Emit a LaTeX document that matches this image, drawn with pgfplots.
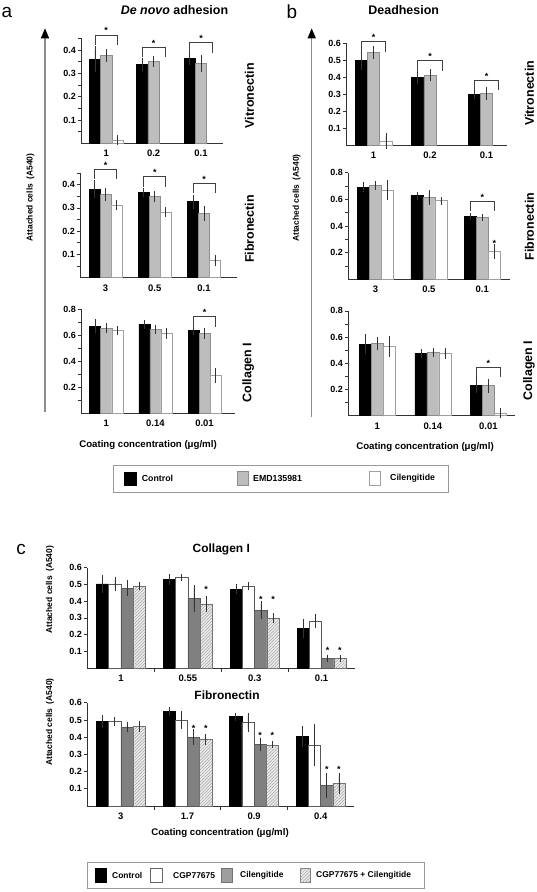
\documentclass[border=0pt]{standalone}
\usepackage{fontspec}
\setmainfont{Liberation Sans}
\usepackage{pgfplots}
\pgfplotsset{compat=1.18}
\usetikzlibrary{patterns.meta,arrows.meta}
\definecolor{emd}{HTML}{BDBDBD}
\definecolor{emdedge}{HTML}{8C8C8C}
\definecolor{ciledge}{HTML}{A0A0A0}
\definecolor{cilc}{HTML}{808080}
\definecolor{combfill}{HTML}{EDEDED}
\definecolor{combline}{HTML}{A0A0A0}
\newcommand\fs[1]{\fontsize{#1}{#1}\selectfont}
\pgfplotsset{
 panel/.style={scale only axis, clip=false, anchor=south west,
   axis x line=bottom, axis y line=left,
   axis line style={-, line width=0.8bp, black!80},
   tick align=outside, major tick length=3.5bp, minor tick length=3.5bp,
   tick style={black!80, line width=0.7bp},
   major x tick style={draw=none},
   ymin=0,
   yticklabel style={font=\bfseries\fs{9}, /pgf/number format/fixed, /pgf/number format/assume math mode=true, inner sep=1.5bp},
   xticklabel style={font=\bfseries\fs{9.5}},
   xtick={0,1,2},
 },
 bars/.style={ybar, bar shift=0pt, bar width=#1, line width=0.6bp,
   /pgfplots/error bars/y dir=both, /pgfplots/error bars/y explicit,
   /pgfplots/error bars/error bar style={line width=0.6bp, black!80},
   /pgfplots/error bars/error mark options={mark size=3bp, line width=0.6bp, black!80}},
}
\tikzset{star/.style={font=\bfseries\fs{9}, inner sep=0pt, anchor=south, yshift=0.8bp},
  cstar/.style={font=\bfseries\fs{9}, inner sep=0pt, anchor=center, yshift=-2bp},
  brk/.style={draw=black!75, line width=0.7bp}}
\newcommand\brk[5]{\draw[brk] (axis cs:#1,#5) |- (axis cs:#2,#4) -- (axis cs:#2,#5); \node[star] at (axis cs:#3,#4) {*};}
\begin{document}
\begin{tikzpicture}
\useasboundingbox (0,0) rectangle (537bp,-892bp);
% ===== panel labels and titles
\node[font=\fs{19}] at (7bp,-12bp) {a};
\node[font=\bfseries\fs{12.5}] at (174.5bp,-10bp) {\textit{De novo} adhesion};
\node[font=\fs{19}] at (292bp,-12bp) {b};
\node[font=\bfseries\fs{12.5}] at (403.7bp,-10bp) {Deadhesion};
\node[font=\fs{19}] at (21bp,-549bp) {c};
% side labels
\node[font=\bfseries\fs{12.5}, rotate=90] at (249.5bp,-95.8bp) {Vitronectin};
\node[font=\bfseries\fs{12.5}, rotate=90] at (249.5bp,-229bp) {Fibronectin};
\node[font=\bfseries\fs{12.5}, rotate=90] at (248.3bp,-372.5bp) {Collagen I};
\node[font=\bfseries\fs{12.5}, rotate=90] at (529.5bp,-93.3bp) {Vitronectin};
\node[font=\bfseries\fs{12.5}, rotate=90] at (529.5bp,-226.7bp) {Fibronectin};
\node[font=\bfseries\fs{12.5}, rotate=90] at (529bp,-370.5bp) {Collagen I};
% y labels
\node[font=\bfseries\fs{8.5}, rotate=90] at (30.5bp,-197.5bp) {Attached cells\hspace{2bp} (A540)};
\node[font=\bfseries\fs{8.5}, rotate=90] at (296.7bp,-198bp) {Attached cells\hspace{2bp} (A540)};
\node[font=\bfseries\fs{8.5}, rotate=90] at (50bp,-589.7bp) {Attached cells\hspace{2bp} (A540)};
\node[font=\bfseries\fs{8.5}, rotate=90] at (50bp,-722bp) {Attached cells\hspace{2bp} (A540)};
% arrows
\draw[line width=1.4bp, black!45, -{Triangle[length=10bp,width=8bp,black]}] (45bp,-411.7bp) -- (45bp,-28.3bp);
\draw[line width=1.4bp, black!45, -{Triangle[length=10bp,width=8bp,black]}] (311.7bp,-417.3bp) -- (311.7bp,-28.3bp);
% x labels
\node[font=\bfseries\fs{9.7}] at (148bp,-445bp) {Coating concentration (μg/ml)};
\node[font=\bfseries\fs{9.7}] at (425bp,-446.7bp) {Coating concentration (μg/ml)};
\node[font=\bfseries\fs{9.7}] at (220bp,-833bp) {Coating concentration (μg/ml)};
\node[font=\bfseries\fs{12}] at (221.3bp,-549bp) {Collagen I};
\node[font=\bfseries\fs{12}] at (227bp,-695bp) {Fibronectin};
% legend a/b
\draw[black!40, line width=0.8bp] (113bp,-465bp) rectangle (448bp,-492bp);
\fill[black] (124bp,-471.7bp) rectangle (136.7bp,-485.7bp);
\node[font=\bfseries\fs{8.8}, anchor=west, inner sep=0pt] at (141.7bp,-478.7bp) {Control};
\filldraw[fill=emd, draw=emdedge, line width=0.6bp] (237.3bp,-471.7bp) rectangle (248.3bp,-485.7bp);
\node[font=\bfseries\fs{8.8}, anchor=west, inner sep=0pt] at (253bp,-478.7bp) {EMD135981};
\filldraw[fill=white, draw=ciledge, line width=0.6bp] (369.3bp,-471.7bp) rectangle (380.7bp,-485.7bp);
\node[font=\bfseries\fs{8.8}, anchor=west, inner sep=0pt] at (390bp,-478.7bp) {Cilengitide};
% legend c
\draw[black!40, line width=0.8bp] (87bp,-862.7bp) rectangle (424bp,-888bp);
\fill[black] (95bp,-868.3bp) rectangle (107bp,-882.7bp);
\node[font=\bfseries\fs{8.5}, anchor=west, inner sep=0pt] at (112bp,-875.5bp) {Control};
\filldraw[fill=white, draw=black!60, line width=0.6bp] (150bp,-868.3bp) rectangle (162bp,-882.7bp);
\node[font=\bfseries\fs{8.5}, anchor=west, inner sep=0pt] at (173bp,-875.5bp) {CGP77675};
\filldraw[fill=black!38, draw=black!55, line width=0.6bp] (221.7bp,-868.3bp) rectangle (232.3bp,-882.7bp);
\node[font=\bfseries\fs{8.5}, anchor=west, inner sep=0pt] at (240bp,-875.5bp) {Cilengitide};
\filldraw[fill=combfill, draw=black!50, line width=0.6bp, postaction={pattern={Lines[angle=45,distance=2.2bp,line width=0.5bp]}, pattern color=combline}] (300bp,-868.3bp) rectangle (310bp,-882.7bp);
\node[font=\bfseries\fs{8.5}, anchor=west, inner sep=0pt] at (316bp,-875.5bp) {CGP77675 + Cilengitide};

% ===== a: Vitronectin
\begin{axis}[panel, at={(81bp,-143.3bp)}, width=142bp, height=104.85bp,
  xmin=-0.532, xmax=2.464, ymax=0.45, ytick={0.1,0.2,0.3,0.4},
  minor ytick={0.05,0.15,0.25,0.35,0.45}, xticklabels={1,0.2,0.1}]
\addplot[bars=0.238, fill=black, draw=black] coordinates {(-0.238,0.36)+-(0,0.043) (0.762,0.34)+-(0,0.015) (1.762,0.365)+-(0,0.018)};
\addplot[bars=0.238, fill=emd, draw=emdedge] coordinates {(0,0.376)+-(0,0.014) (1,0.35)+-(0,0.01) (2,0.343)+-(0,0.022)};
\addplot[bars=0.238, fill=white, draw=ciledge] coordinates {(0.238,0.014)+-(0,0.01)};
\brk{-0.238}{0.238}{0}{0.465}{0.42}
\brk{0.762}{1.238}{1}{0.41}{0.369}
\brk{1.762}{2.238}{2}{0.432}{0.389}
\end{axis}
% ===== a: Fibronectin
\begin{axis}[panel, at={(80bp,-277.5bp)}, width=157bp, height=104.4bp,
  xmin=-0.518, xmax=2.67, ymax=0.45, ytick={0.1,0.2,0.3,0.4},
  minor ytick={0.05,0.15,0.25,0.35,0.45}, xticklabels={3,0.5,0.1}]
\addplot[bars=0.223, fill=black, draw=black] coordinates {(-0.223,0.381)+-(0,0.025) (0.777,0.366)+-(0,0.007) (1.777,0.327)+-(0,0.017)};
\addplot[bars=0.223, fill=emd, draw=emdedge] coordinates {(0,0.358)+-(0,0.015) (1,0.348)+-(0,0.01) (2,0.277)+-(0,0.02)};
\addplot[bars=0.223, fill=white, draw=ciledge] coordinates {(0.223,0.3125)+-(0,0.01) (1.223,0.281)+-(0,0.008) (2.223,0.073)+-(0,0.012)};
\brk{-0.223}{0.223}{0}{0.466}{0.423}
\brk{0.777}{1.223}{1}{0.434}{0.391}
\brk{1.777}{2.223}{2}{0.406}{0.363}
\end{axis}
% ===== a: Collagen I
\begin{axis}[panel, at={(81bp,-413.3bp)}, width=154bp, height=104bp,
  xmin=-0.515, xmax=2.62, ymax=0.8, ytick={0.2,0.4,0.6,0.8},
  minor ytick={0.1,0.3,0.5,0.7}, xticklabels={1,0.14,0.01}]
\addplot[bars=0.224, fill=black, draw=black] coordinates {(-0.224,0.669)+-(0,0.03) (0.776,0.684)+-(0,0.012) (1.776,0.635)+-(0,0.012)};
\addplot[bars=0.224, fill=emd, draw=emdedge] coordinates {(0,0.654)+-(0,0.015) (1,0.648)+-(0,0.012) (2,0.615)+-(0,0.02)};
\addplot[bars=0.224, fill=white, draw=ciledge] coordinates {(0.224,0.635)+-(0,0.012) (1.224,0.615)+-(0,0.018) (2.224,0.292)+-(0,0.035)};
\brk{1.776}{2.224}{2}{0.743}{0.666}
\end{axis}
% ===== b: Vitronectin
\begin{axis}[panel, at={(346bp,-145bp)}, width=161bp, height=102bp,
  xmin=-0.487, xmax=2.363, ymax=0.6, ytick={0.1,0.2,0.3,0.4,0.5,0.6},
  xticklabels={1,0.2,0.1}]
\addplot[bars=0.218, fill=black, draw=black] coordinates {(-0.218,0.496)+-(0,0.04) (0.782,0.398)+-(0,0.022) (1.782,0.296)+-(0,0.01)};
\addplot[bars=0.218, fill=emd, draw=emdedge] coordinates {(0,0.543)+-(0,0.02) (1,0.41)+-(0,0.018) (2,0.304)+-(0,0.02)};
\addplot[bars=0.218, fill=white, draw=ciledge] coordinates {(0.218,0.024)+-(0,0.03)};
\brk{-0.218}{0.218}{0}{0.608}{0.549}
\brk{0.782}{1.218}{1}{0.496}{0.437}
\brk{1.782}{2.218}{2}{0.382}{0.324}
\end{axis}
% ===== b: Fibronectin
\begin{axis}[panel, at={(348bp,-279.3bp)}, width=162bp, height=106.6bp,
  xmin=-0.515, xmax=2.52, ymax=0.8, ytick={0.2,0.4,0.6,0.8},
  minor ytick={0.1,0.3,0.5,0.7}, xticklabels={3,0.5,0.1}]
\addplot[bars=0.225, fill=black, draw=black] coordinates {(-0.225,0.69)+-(0,0.015) (0.775,0.627)+-(0,0.007) (1.775,0.47)+-(0,0.006)};
\addplot[bars=0.225, fill=emd, draw=emdedge] coordinates {(0,0.702)+-(0,0.012) (1,0.615)+-(0,0.035) (2,0.462)+-(0,0.002)};
\addplot[bars=0.225, fill=white, draw=ciledge] coordinates {(0.225,0.67)+-(0,0.05) (1.225,0.59)+-(0,0.008) (2.225,0.207)+-(0,0.035)};
\brk{1.775}{2.225}{2}{0.582}{0.515}
\node[cstar] at (axis cs:2.225,0.287) {*};
\end{axis}
% ===== b: Collagen I
\begin{axis}[panel, at={(348bp,-415.7bp)}, width=167bp, height=104.8bp,
  xmin=-0.528, xmax=2.48, ymax=0.8, ytick={0.2,0.4,0.6,0.8},
  minor ytick={0.1,0.3,0.5,0.7}, xticklabels={1,0.14,0.01}]
\addplot[bars=0.216, fill=black, draw=black] coordinates {(-0.216,0.547)+-(0,0.055) (0.784,0.476)+-(0,0.01) (1.784,0.234)+-(0,0.038)};
\addplot[bars=0.216, fill=emd, draw=emdedge] coordinates {(0,0.553)+-(0,0.025) (1,0.481)+-(0,0.01) (2,0.229)+-(0,0.03)};
\addplot[bars=0.216, fill=white, draw=ciledge] coordinates {(0.216,0.527)+-(0,0.055) (1.216,0.476)+-(0,0.02) (2.216,0.018)+-(0,0.015)};
\brk{1.784}{2.216}{2}{0.369}{0.298}
\end{axis}
% ===== c: Collagen I
\begin{axis}[panel, at={(87bp,-668.3bp)}, width=268bp, height=100.8bp,
  xmin=-0.508, xmax=3.5, ymax=0.6, ytick={0.1,0.2,0.3,0.4,0.5,0.6},
  xtick={0,1,2,3}, xticklabels={1,0.55,0.3,0.1}, minor xtick={0.5,1.5,2.5}]
\addplot[bars=0.183, fill=black, draw=black] coordinates {(-0.2745,0.502)+-(0,0.033) (0.7255,0.53)+-(0,0.015) (1.7255,0.472)+-(0,0.012) (2.7255,0.236)+-(0,0.04)};
\addplot[bars=0.183, fill=white, draw=black!65] coordinates {(-0.0915,0.502)+-(0,0.024) (0.9085,0.542)+-(0,0.004) (1.9085,0.49)+-(0,0.007) (2.9085,0.28)+-(0,0.025)};
\addplot[bars=0.183, fill=cilc, draw=black!65] coordinates {(0.0915,0.476)+-(0,0.03) (1.0915,0.417)+-(0,0.063) (2.0915,0.345)+-(0,0.036) (3.0915,0.061)+-(0,0.003)};
\addplot[bars=0.183, fill=combfill, draw=black!55, postaction={pattern={Lines[angle=45,distance=2.2bp,line width=0.5bp]}, pattern color=combline}] coordinates {(0.2745,0.49)+-(0,0.008) (1.2745,0.383)+-(0,0.032) (2.2745,0.298)+-(0,0.013) (3.2745,0.061)+-(0,0.003)};
\node[cstar] at (axis cs:1.2745,0.48) {*};
\node[cstar] at (axis cs:2.0915,0.42) {*};
\node[cstar] at (axis cs:2.2745,0.42) {*};
\node[cstar] at (axis cs:3.0915,0.12) {*};
\node[cstar] at (axis cs:3.2745,0.12) {*};
\end{axis}
% ===== c: Fibronectin
\begin{axis}[panel, at={(87bp,-806bp)}, width=267bp, height=103.2bp,
  xmin=-0.508, xmax=3.5, ymax=0.6, ytick={0.1,0.2,0.3,0.4,0.5,0.6},
  xtick={0,1,2,3}, xticklabels={3,1.7,0.9,0.4}, minor xtick={0.5,1.5,2.5}]
\addplot[bars=0.183, fill=black, draw=black] coordinates {(-0.2745,0.49)+-(0,0.02) (0.7255,0.548)+-(0,0.008) (1.7255,0.519)+-(0,0.006) (2.7255,0.403)+-(0,0.043)};
\addplot[bars=0.183, fill=white, draw=black!65] coordinates {(-0.0915,0.49)+-(0,0.008) (0.9085,0.5)+-(0,0.035) (1.9085,0.487)+-(0,0.038) (2.9085,0.355)+-(0,0.107)};
\addplot[bars=0.183, fill=cilc, draw=black!65] coordinates {(0.0915,0.457)+-(0,0.012) (1.0915,0.401)+-(0,0.03) (2.0915,0.36)+-(0,0.02) (3.0915,0.12)+-(0,0.055)};
\addplot[bars=0.183, fill=combfill, draw=black!55, postaction={pattern={Lines[angle=45,distance=2.2bp,line width=0.5bp]}, pattern color=combline}] coordinates {(0.2745,0.461)+-(0,0.013) (1.2745,0.388)+-(0,0.013) (2.2745,0.355)+-(0,0.003) (3.2745,0.132)+-(0,0.042)};
\node[cstar] at (axis cs:1.0915,0.465) {*};
\node[cstar] at (axis cs:1.2745,0.465) {*};
\node[cstar] at (axis cs:2.0915,0.42) {*};
\node[cstar] at (axis cs:2.2745,0.42) {*};
\node[cstar] at (axis cs:3.0915,0.225) {*};
\node[cstar] at (axis cs:3.2745,0.225) {*};
\end{axis}
\end{tikzpicture}
\end{document}
